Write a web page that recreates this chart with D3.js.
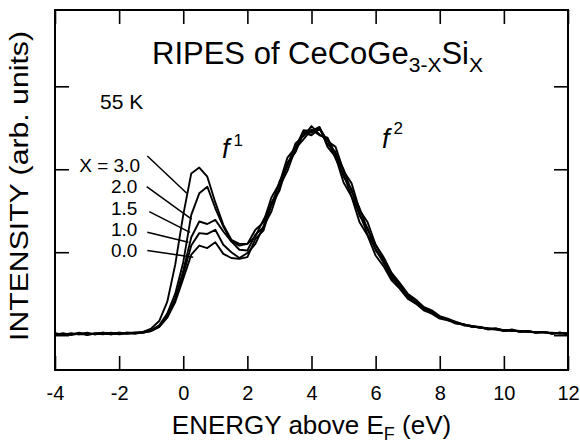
<!DOCTYPE html>
<html>
<head>
<meta charset="utf-8">
<script src="https://cdn.jsdelivr.net/npm/d3@7"></script>
<style>
body { margin: 0; background: #fff; }
text { font-family: "Liberation Sans", Arial, Helvetica, sans-serif; fill: #000; }
</style>
</head>
<body>
<div id="chart"></div>
<script>
// Energy grid (eV above E_F)
var energy = [-4, -3.75, -3.5, -3.25, -3, -2.75, -2.5, -2.25, -2, -1.75, -1.5, -1.25,
    -1, -0.75, -0.5, -0.25, 0, 0.25, 0.5, 0.75, 1, 1.25, 1.5, 1.75,
    2, 2.25, 2.5, 2.75, 3, 3.25, 3.5, 3.75, 4, 4.25, 4.5, 4.75,
    5, 5.25, 5.5, 5.75, 6, 6.25, 6.5, 6.75, 7, 7.25, 7.5, 7.75,
    8, 8.25, 8.5, 8.75, 9, 9.25, 9.5, 9.75, 10, 10.25, 10.5, 10.75, 11, 11.25, 11.5, 11.75, 12];

// Intensity (arb. units) for each Si content X
var x30 = [0.01, 0.02, 0.00, 0.02, 0.01, 0.02, 0.03, 0.01, 0.02, 0.03, 0.02, 0.04,
    0.08, 0.17, 0.40, 0.85, 1.45, 1.95, 2.02, 1.91, 1.60, 1.33, 1.15, 1.10,
    1.10, 1.27, 1.36, 1.66, 1.83, 2.14, 2.26, 2.47, 2.46, 2.51, 2.27, 2.15,
    1.84, 1.67, 1.36, 1.20, 0.96, 0.83, 0.66, 0.56, 0.44, 0.38, 0.30, 0.26,
    0.20, 0.18, 0.14, 0.13, 0.10, 0.10, 0.07, 0.08, 0.05, 0.07, 0.04, 0.05, 0.03, 0.04, 0.02, 0.03, 0.01];
var x20 = [0.02, 0.01, 0.02, 0.01, 0.03, 0.01, 0.02, 0.02, 0.03, 0.02, 0.03, 0.03,
    0.06, 0.12, 0.26, 0.50, 0.88, 1.45, 1.71, 1.79, 1.53, 1.31, 1.13, 1.08,
    1.10, 1.19, 1.39, 1.56, 1.85, 2.04, 2.31, 2.40, 2.52, 2.42, 2.35, 2.13,
    1.94, 1.67, 1.47, 1.21, 1.04, 0.87, 0.69, 0.58, 0.46, 0.40, 0.31, 0.27,
    0.21, 0.19, 0.15, 0.12, 0.11, 0.09, 0.08, 0.07, 0.06, 0.06, 0.05, 0.04, 0.04, 0.03, 0.03, 0.02, 0.02];
var x15 = [0.00, 0.02, 0.01, 0.02, 0.02, 0.01, 0.03, 0.02, 0.02, 0.03, 0.03, 0.04,
    0.06, 0.11, 0.23, 0.44, 0.78, 1.18, 1.37, 1.34, 1.39, 1.25, 1.13, 1.03,
    1.02, 1.21, 1.30, 1.60, 1.76, 2.08, 2.21, 2.44, 2.41, 2.49, 2.30, 2.21,
    1.91, 1.76, 1.44, 1.29, 1.02, 0.89, 0.71, 0.60, 0.47, 0.41, 0.32, 0.28,
    0.22, 0.18, 0.16, 0.12, 0.11, 0.09, 0.08, 0.08, 0.06, 0.05, 0.05, 0.04, 0.03, 0.04, 0.02, 0.03, 0.02];
var x10 = [0.01, 0.00, 0.02, 0.01, 0.01, 0.02, 0.01, 0.03, 0.01, 0.02, 0.02, 0.03,
    0.05, 0.10, 0.22, 0.42, 0.73, 1.08, 1.23, 1.22, 1.27, 1.09, 1.00, 0.93,
    0.99, 1.10, 1.31, 1.49, 1.79, 1.98, 2.25, 2.36, 2.48, 2.41, 2.38, 2.18,
    2.00, 1.73, 1.53, 1.27, 1.09, 0.91, 0.73, 0.61, 0.48, 0.42, 0.33, 0.29,
    0.22, 0.19, 0.15, 0.13, 0.10, 0.10, 0.07, 0.07, 0.05, 0.06, 0.04, 0.05, 0.03, 0.03, 0.02, 0.03, 0.01];
var x00 = [0.02, 0.01, 0.01, 0.03, 0.00, 0.02, 0.02, 0.01, 0.03, 0.02, 0.03, 0.03,
    0.05, 0.10, 0.21, 0.40, 0.68, 0.97, 1.08, 1.05, 1.12, 0.98, 0.93, 0.92,
    0.94, 1.16, 1.26, 1.57, 1.74, 2.06, 2.21, 2.45, 2.44, 2.50, 2.34, 2.27,
    1.98, 1.83, 1.51, 1.36, 1.09, 0.94, 0.75, 0.63, 0.50, 0.43, 0.34, 0.30,
    0.23, 0.20, 0.16, 0.13, 0.11, 0.10, 0.08, 0.07, 0.06, 0.06, 0.04, 0.05, 0.03, 0.04, 0.02, 0.02, 0.02];

var seriesList = [x30, x20, x15, x10, x00];
var seriesLabels = ["X = 3.0", "2.0", "1.5", "1.0", "0.0"];

// Tick values
var xTicks = [-4, -2, 0, 2, 4, 6, 8, 10, 12];
var yTicks = [0, 1, 2, 3];

// Define height and width of svg
var svgWidth = 580;
var svgHeight = 443;

var margin = {
    top: 10,
    right: 12,
    bottom: 73,
    left: 55
};

var width = svgWidth - margin.left - margin.right;
var height = svgHeight - margin.top - margin.bottom;

var svg = d3
    .select("#chart")
    .append("svg")
    .attr("width", svgWidth)
    .attr("height", svgHeight);

var chartGroup = svg.append("g")
    .attr("transform", `translate(${margin.left}, ${margin.top})`);

// Create scales
var xLinearScale = d3.scaleLinear()
    .domain([-4, 12])
    .range([0, width]);

var yLinearScale = d3.scaleLinear()
    .domain([-0.42, 3.92])
    .range([height, 0]);

// Axes, ticks pointing inward on all four sides
var bottomAxis = d3.axisBottom(xLinearScale).tickValues(xTicks).tickSize(-14).tickPadding(16);
var topAxis = d3.axisTop(xLinearScale).tickValues(xTicks).tickSize(-14).tickFormat("");
var leftAxis = d3.axisLeft(yLinearScale).tickValues(yTicks).tickSize(-14).tickFormat("");
var rightAxis = d3.axisRight(yLinearScale).tickValues(yTicks).tickSize(-14).tickFormat("");

var gBottom = chartGroup.append("g")
    .attr("transform", `translate(0, ${height})`)
    .call(bottomAxis);
chartGroup.append("g").call(topAxis);
chartGroup.append("g").call(leftAxis);
chartGroup.append("g")
    .attr("transform", `translate(${width}, 0)`)
    .call(rightAxis);

chartGroup.selectAll(".domain").remove();
chartGroup.selectAll(".tick line")
    .attr("stroke", "#000")
    .attr("stroke-width", 1.6);
gBottom.selectAll("text")
    .attr("font-size", "20px")
    .attr("font-family", "Liberation Sans, Arial, sans-serif")
    .attr("fill", "#000")
    .text(d => d < 0 ? "-" + Math.abs(d) : d);

// Frame
chartGroup.append("rect")
    .attr("width", width)
    .attr("height", height)
    .attr("fill", "none")
    .attr("stroke", "#000")
    .attr("stroke-width", 2);

// Spectra
var line = d3.line()
    .x((d, i) => xLinearScale(energy[i]))
    .y(d => yLinearScale(d));

chartGroup.selectAll(".spectrum")
    .data(seriesList)
    .enter()
    .append("path")
    .attr("class", "spectrum")
    .attr("d", d => line(d))
    .attr("fill", "none")
    .attr("stroke", "#000")
    .attr("stroke-width", 1.9)
    .attr("stroke-linejoin", "round");

// Leader lines from labels to curves (data units)
var leaders = [
    {x1: -1.12, y1: 2.16, x2: 0.11, y2: 1.71, tx: -1.35, ty: 1.97},
    {x1: -1.14, y1: 1.79, x2: 0.26, y2: 1.40, tx: -1.43, ty: 1.71},
    {x1: -1.06, y1: 1.49, x2: 0.21, y2: 1.24, tx: -1.43, ty: 1.45},
    {x1: -1.12, y1: 1.24, x2: 0.16, y2: 1.12, tx: -1.43, ty: 1.20},
    {x1: -1.12, y1: 1.02, x2: 0.31, y2: 0.94, tx: -1.43, ty: 0.94}
];

chartGroup.selectAll(".leader")
    .data(leaders)
    .enter()
    .append("line")
    .attr("class", "leader")
    .attr("x1", d => xLinearScale(d.x1))
    .attr("y1", d => yLinearScale(d.y1))
    .attr("x2", d => xLinearScale(d.x2))
    .attr("y2", d => yLinearScale(d.y2))
    .attr("stroke", "#000")
    .attr("stroke-width", 1.5);

chartGroup.selectAll(".series-label")
    .data(leaders)
    .enter()
    .append("text")
    .attr("class", "series-label")
    .attr("x", d => xLinearScale(d.tx))
    .attr("y", d => yLinearScale(d.ty))
    .attr("text-anchor", "end")
    .attr("font-size", "19px")
    .text((d, i) => seriesLabels[i]);

// Title
var title = svg.append("text")
    .attr("x", 152)
    .attr("y", 64)
    .attr("font-size", "31px");
title.append("tspan").text("RIPES of CeCoGe");
title.append("tspan").attr("font-size", "21px").attr("dy", 8).text("3-X");
title.append("tspan").attr("dy", -8).text("Si");
title.append("tspan").attr("font-size", "21px").attr("dy", 8).text("X");

svg.append("text")
    .attr("x", 100)
    .attr("y", 109)
    .attr("font-size", "21px")
    .text("55 K");

// f1 and f2 labels
var f1 = svg.append("text").attr("x", 222).attr("y", 158).attr("font-size", "27px").attr("font-style", "italic");
f1.append("tspan").text("f");
f1.append("tspan").attr("font-size", "17px").attr("font-style", "normal").attr("dx", 4).attr("dy", -12).text("1");

var f2 = svg.append("text").attr("x", 382).attr("y", 148).attr("font-size", "27px").attr("font-style", "italic");
f2.append("tspan").text("f");
f2.append("tspan").attr("font-size", "17px").attr("font-style", "normal").attr("dx", 4).attr("dy", -14).text("2");

// Axis titles
var xTitle = svg.append("text")
    .attr("x", margin.left + width / 2)
    .attr("y", 434)
    .attr("text-anchor", "middle")
    .attr("font-size", "26px");
xTitle.append("tspan").text("ENERGY above E");
xTitle.append("tspan").attr("font-size", "18px").attr("dy", 6).text("F");
xTitle.append("tspan").attr("dy", -6).text(" (eV)");

svg.append("text")
    .attr("transform", "translate(28, 186) rotate(-90)")
    .attr("text-anchor", "middle")
    .attr("font-size", "26px")
    .attr("textLength", 310)
    .attr("lengthAdjust", "spacingAndGlyphs")
    .text("INTENSITY (arb. units)");
</script>
</body>
</html>
